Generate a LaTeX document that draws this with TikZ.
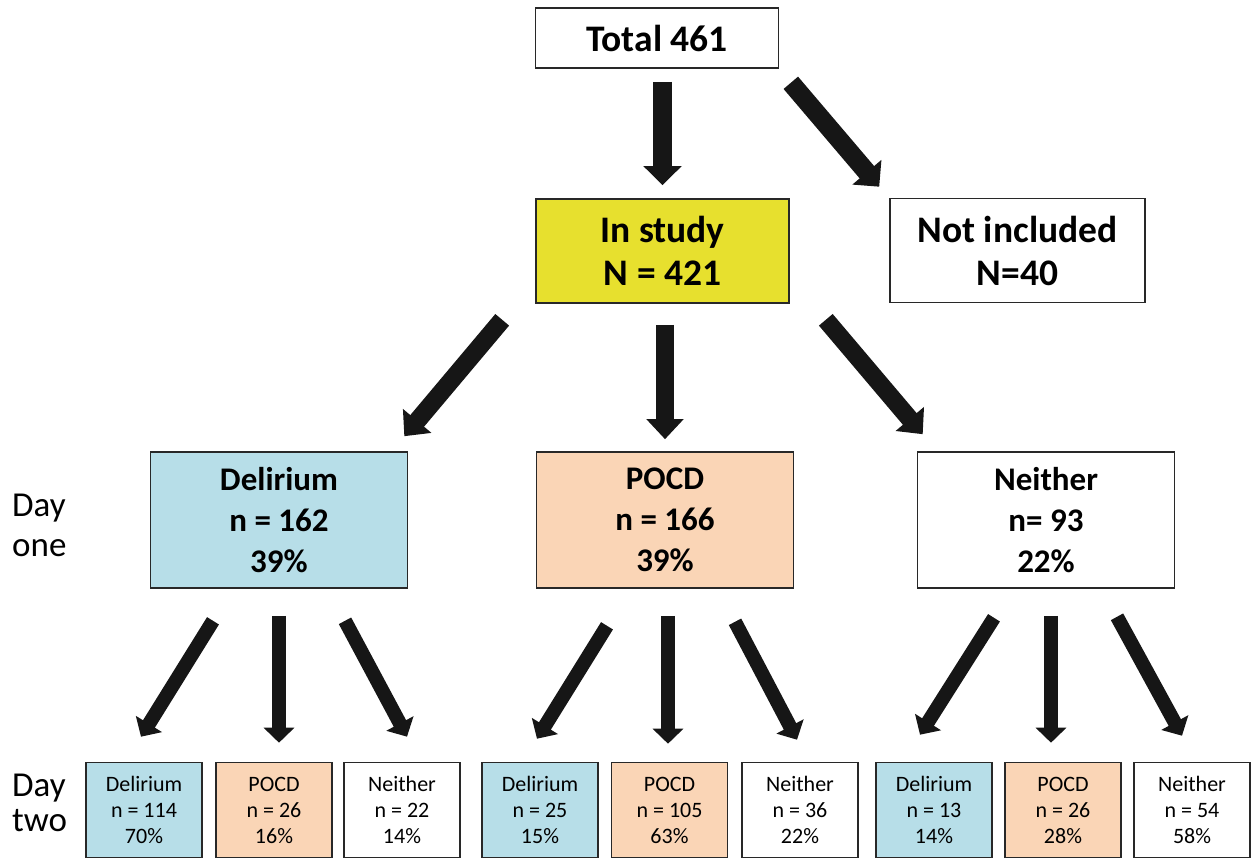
\documentclass[tikz,border=0pt]{standalone}
\usepackage{fontspec}
\setmainfont{Carlito}
\usetikzlibrary{arrows.meta,calc}

\definecolor{studyyellow}{RGB}{231,224,46}
\definecolor{delblue}{RGB}{183,222,232}
\definecolor{pocdpeach}{RGB}{250,213,182}
\definecolor{edgegray}{RGB}{40,40,40}
\definecolor{arrowblack}{RGB}{22,22,22}

\tikzset{
  topbox/.style={draw=edgegray, line width=1.6pt, inner sep=0pt, align=center,
    minimum width=253pt, minimum height=104pt, font=\fontsize{37.5}{43}\selectfont\bfseries},
  daybox/.style={draw=edgegray, line width=1.6pt, inner sep=0pt, align=center,
    minimum width=257pt, minimum height=136pt, font=\fontsize{33}{41}\selectfont\bfseries},
  smallbox/.style={draw=edgegray, line width=1.6pt, inner sep=0pt, align=center,
    minimum width=116pt, minimum height=95pt, font=\fontsize{22}{26}\selectfont},
  daylabel/.style={inner sep=0pt, align=left, anchor=west},
  bigarrow/.style={draw=arrowblack, line width=19pt, -{Triangle[width=37pt,length=19pt]}},
  midarrow/.style={draw=arrowblack, line width=18pt, -{Triangle[width=36pt,length=20pt]}},
  smallarrow/.style={draw=arrowblack, line width=14pt, -{Triangle[width=30pt,length=15pt]}},
}

\begin{document}
\begin{tikzpicture}[x=1pt,y=-1pt]
  \useasboundingbox (0,0) rectangle (1258,859);

  % top of the chart
  \node[topbox, minimum width=243pt, minimum height=60pt] (total) at (657,38) {Total 461};
  \node[topbox, fill=studyyellow] (study) at (662.5,251) {In study\\N = 421};
  \node[topbox, minimum width=255pt] (notinc) at (1017.5,250.5) {Not included\\N=40};

  % day one
  \node[daylabel, font=\fontsize{35}{40}\selectfont] (dayone) at (12,525) {Day\\one};
  \node[daybox, fill=delblue] (del1) at (279,520) {Delirium\\n = 162\\39\%};
  \node[daybox, fill=pocdpeach] (pocd1) at (665,520) {POCD\\n = 166\\39\%};
  \node[daybox] (nei1) at (1046,520) {Neither\\n= 93\\22\%};

  % day two
  \node[daylabel, font=\fontsize{35}{35}\selectfont] (daytwo) at (12,803) {Day\\two};
  \node[smallbox, fill=delblue] (delA) at (144,810) {Delirium\\n = 114\\70\%};
  \node[smallbox, fill=pocdpeach] (pocdA) at (274,810) {POCD\\n = 26\\16\%};
  \node[smallbox] (neiA) at (402,810) {Neither\\n = 22\\14\%};
  \node[smallbox, fill=delblue] (delB) at (540,810) {Delirium\\n = 25\\15\%};
  \node[smallbox, fill=pocdpeach] (pocdB) at (669.5,810) {POCD\\n = 105\\63\%};
  \node[smallbox] (neiB) at (800,810) {Neither\\n = 36\\22\%};
  \node[smallbox, fill=delblue] (delC) at (934,810) {Delirium\\n = 13\\14\%};
  \node[smallbox, fill=pocdpeach] (pocdC) at (1063,810) {POCD\\n = 26\\28\%};
  \node[smallbox] (neiC) at (1192,810) {Neither\\n = 54\\58\%};

  % arrows
  \draw[bigarrow] ($(study.north |- total.south)+(0,13)$) -- ($(study.north)+(0,-13)$);
  \draw[bigarrow] ($(total.south east)+(11.5,14)$) -- ($(notinc.north west)+(-10,-11)$);

  \draw[midarrow] ($(study.south west)+(-33,16)$) -- ($(del1.north east)+(-4,-15)$);
  \draw[midarrow] ($(pocd1.north |- study.south)+(0,21)$) -- ($(pocd1.north)+(0,-12)$);
  \draw[midarrow] ($(study.south east)+(36,16)$) -- ($(nei1.north west)+(6,-17)$);

  \draw[smallarrow] ($(del1.south)+(-66,32)$) -- ($(delA.north)+(-3,-25)$);
  \draw[smallarrow] ($(del1.south)+(0,27)$) -- ($(del1.south |- pocdA.north)+(0,-19)$);
  \draw[smallarrow] ($(del1.south)+(66,32)$) -- ($(neiA.north)+(5,-25)$);

  \draw[smallarrow] ($(pocd1.south)+(-58,37)$) -- ($(delB.north)+(-3,-23)$);
  \draw[smallarrow] ($(pocd1.south)+(3,27)$) -- ($(pocdB.north)+(-1.5,-18)$);
  \draw[smallarrow] ($(pocd1.south)+(70,33)$) -- ($(neiB.north)+(-3,-22)$);

  \draw[smallarrow] ($(nei1.south)+(-52,29)$) -- ($(delC.north)+(-14,-27)$);
  \draw[smallarrow] ($(nei1.south)+(5,27)$) -- ($(pocdC.north)+(-12,-19)$);
  \draw[smallarrow] ($(nei1.south)+(71,28)$) -- ($(neiC.north)+(-10,-26)$);
\end{tikzpicture}
\end{document}
